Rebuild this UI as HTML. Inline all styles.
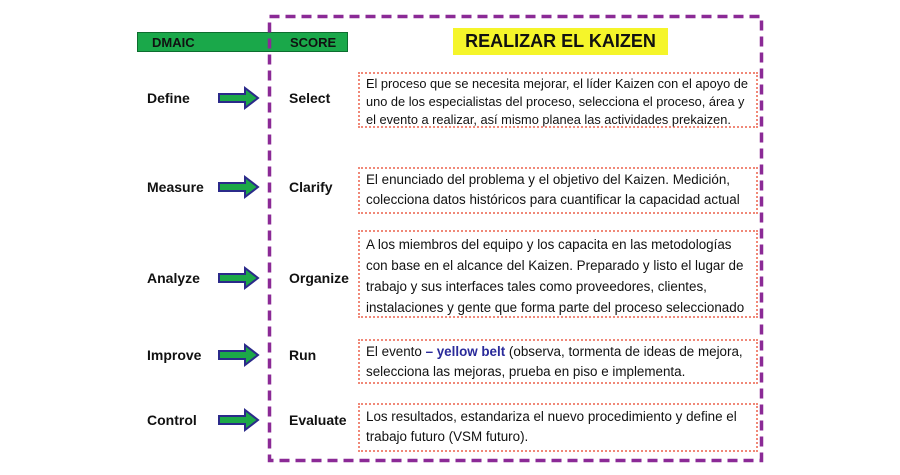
<!DOCTYPE html>
<html><head><meta charset="utf-8"><style>
body{margin:0;width:900px;height:475px;background:#fff;position:relative;overflow:hidden;font-family:"Liberation Sans",sans-serif}
.a{position:absolute}
.lab{position:absolute;font-weight:bold;font-size:14px;color:#111;line-height:16px}
.box{position:absolute;left:358px;width:384px;border:2px dotted #f08878;padding:4px 6px;font-size:13.4px;line-height:20px;color:#111;white-space:nowrap}
</style></head><body>
<div class="a" style="left:137px;top:32px;width:211px;height:20px;background:#1aa84a;border:1px solid #0d6d2f;box-sizing:border-box"></div>
<div class="lab" style="left:152px;top:35px;font-size:13px">DMAIC</div>
<div class="lab" style="left:290px;top:35px;font-size:13px">SCORE</div>
<svg class="a" style="left:0;top:0" width="900" height="475">
<rect x="269.5" y="16.5" width="492" height="444" fill="none" stroke="#8b2a96" stroke-width="3.5" stroke-dasharray="10,6"/>
<g fill="#1ca848" stroke="#2b2a8a" stroke-width="2">
<path d="M219,94 h26 v-6 l13,10 l-13,10 v-6 h-26z"/>
<path d="M219,183 h26 v-6 l13,10 l-13,10 v-6 h-26z"/>
<path d="M219,274 h26 v-6 l13,10 l-13,10 v-6 h-26z"/>
<path d="M219,351 h26 v-6 l13,10 l-13,10 v-6 h-26z"/>
<path d="M219,416 h26 v-6 l13,10 l-13,10 v-6 h-26z"/>
</g></svg>
<div class="a" style="left:453px;top:28px;width:215px;height:27px;background:#f5f52a;font-weight:bold;font-size:18px;line-height:27px;text-align:center;color:#111">REALIZAR EL KAIZEN</div>

<div class="lab" style="left:147px;top:90px">Define</div>
<div class="lab" style="left:147px;top:179px">Measure</div>
<div class="lab" style="left:147px;top:270px">Analyze</div>
<div class="lab" style="left:147px;top:347px">Improve</div>
<div class="lab" style="left:147px;top:412px">Control</div>
<div class="lab" style="left:289px;top:90px">Select</div>
<div class="lab" style="left:289px;top:179px">Clarify</div>
<div class="lab" style="left:289px;top:270px">Organize</div>
<div class="lab" style="left:289px;top:347px">Run</div>
<div class="lab" style="left:289px;top:412px">Evaluate</div>

<div class="box" style="top:72px;height:50px;font-size:12.8px;line-height:18px;padding-top:1px;padding-bottom:1px">El proceso que se necesita mejorar, el líder Kaizen con el apoyo de<br>uno de los especialistas del proceso, selecciona el proceso, área y<br>el evento a realizar, así mismo planea las actividades prekaizen.</div>
<div class="box" style="top:167px;height:38px;line-height:20px;padding-top:1px">El enunciado del problema y el objetivo del Kaizen. Medición,<br>colecciona datos históricos para cuantificar la capacidad actual</div>
<div class="box" style="top:230px;height:78px;line-height:21px;padding-top:2px">A los miembros del equipo y los capacita en las metodologías<br>con base en el alcance del Kaizen. Preparado y listo el lugar de<br>trabajo y sus interfaces tales como proveedores, clientes,<br>instalaciones y gente que forma parte del proceso seleccionado</div>
<div class="box" style="top:339px;height:36px;line-height:20px;padding-top:1px">El evento <b style="color:#2a2a9a">– yellow belt</b> (observa, tormenta de ideas de mejora,<br>selecciona las mejoras, prueba en piso e implementa.</div>
<div class="box" style="top:403px;height:39px;line-height:20px;padding-top:2px">Los resultados, estandariza el nuevo procedimiento y define el<br>trabajo futuro (VSM futuro).</div>
</body></html>
